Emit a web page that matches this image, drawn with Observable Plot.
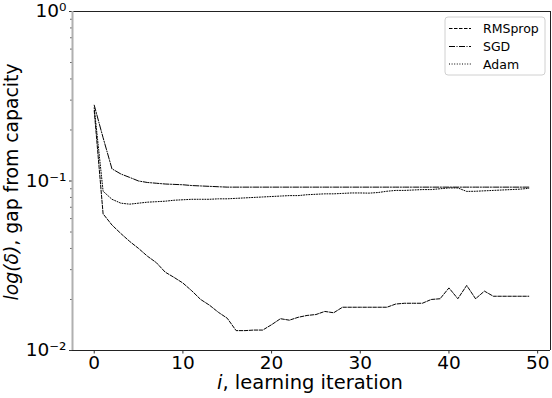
<!DOCTYPE html>
<html><head><meta charset="utf-8">
<script src="https://cdn.jsdelivr.net/npm/d3@7"></script>
<script src="https://cdn.jsdelivr.net/npm/@observablehq/plot@0.6"></script>
<style>
body{margin:0;background:#fff;}
#wrap{position:relative;width:552px;height:398px;}
</style></head><body><div id="wrap"></div>
<script>
const iterations = d3.range(50);
const rmsprop = [0.26,0.064,0.055,0.049,0.044,0.040,0.036,0.033,0.029,0.027,
  0.025,0.0225,0.020,0.0185,0.0168,0.0155,0.0131,0.0131,0.0132,0.0132,
  0.0142,0.0154,0.0151,0.0157,0.0161,0.0163,0.017,0.0167,0.018,0.018,
  0.018,0.018,0.018,0.018,0.0188,0.019,0.019,0.019,0.020,0.0202,
  0.0234,0.0202,0.0242,0.0202,0.0224,0.0209,0.0209,0.0209,0.0209,0.0209];
const sgd = [0.28,0.18,0.118,0.11,0.105,0.100,0.098,0.097,0.096,0.0955,
  0.095,0.094,0.0935,0.093,0.0925,0.092,0.092,0.092,0.092,0.092,
  0.092,0.092,0.092,0.092,0.092,0.092,0.092,0.092,0.092,0.092,
  0.092,0.092,0.092,0.092,0.092,0.092,0.092,0.092,0.092,0.092,
  0.092,0.092,0.092,0.092,0.092,0.092,0.092,0.092,0.092,0.092];
const adam = [0.27,0.087,0.078,0.074,0.073,0.074,0.075,0.0755,0.076,0.077,
  0.0775,0.078,0.078,0.078,0.0785,0.0785,0.079,0.0795,0.08,0.0805,
  0.081,0.0815,0.082,0.082,0.083,0.0835,0.084,0.084,0.0845,0.085,
  0.085,0.0848,0.0855,0.087,0.088,0.088,0.0885,0.089,0.089,0.09,
  0.091,0.091,0.0868,0.087,0.0875,0.088,0.0885,0.089,0.0895,0.0905];
const seriesNames = ["RMSprop","SGD","Adam"];
const dashes = ["3.5,1.5","6,1.5,1,1.5","1,1.6"];
const yMajor = [0.01,0.1,1];
const yMajorLabels = ["10⁻²","10⁻¹","10⁰"];
const yMinor = [0.02,0.03,0.04,0.05,0.06,0.07,0.08,0.09,0.2,0.3,0.4,0.5,0.6,0.7,0.8,0.9];
const xTicks = [0,10,20,30,40,50];
const xLabel = ["i", ", learning iteration"];
const yLabel = ["log(δ)", ", gap from capacity"];

const seriesVals = [rmsprop, sgd, adam];
const tables = seriesVals.map((vals, k) => iterations.map((i, j) => ({i, v: vals[j], s: seriesNames[k]})));
const xDom = [-2.45, 51.45];
const yDom = [0.01, 1];

const chart = Plot.plot({
  width: 552, height: 398,
  marginLeft: 72, marginRight: 2, marginTop: 11, marginBottom: 48,
  style: {fontFamily: "DejaVu Sans", fontSize: "18.5px", color: "#000", background: "#fff", overflow: "visible"},
  x: {domain: xDom, label: null},
  y: {type: "log", domain: yDom, label: null},
  marks: [
    Plot.axisY(yMinor, {tickSize: 2, tickFormat: () => "", stroke: "#444", strokeWidth: 0.8, label: null}),
    Plot.axisY(yMajor, {tickSize: 3, tickPadding: 3, tickFormat: d => yMajorLabels[yMajor.indexOf(d)], stroke: "#333", fontSize: 18.5, label: null}),
    Plot.axisX(xTicks, {tickSize: 3.5, tickPadding: 1.5, fontSize: 18.5, stroke: "#333", label: null}),
    ...tables.map((t, k) => Plot.line(t, {x: "i", y: "v", stroke: "#000", strokeWidth: 1, strokeDasharray: dashes[k]})),
    Plot.ruleY([yDom[1]], {stroke: "#222", strokeWidth: 1}),
    Plot.ruleY([yDom[0]], {stroke: "#222", strokeWidth: 1}),
    Plot.ruleX([xDom[1]], {stroke: "#222", strokeWidth: 1}),
    Plot.ruleX([xDom[0]], {stroke: "#b0b0b0", strokeWidth: 2})
  ]
});
document.getElementById("wrap").appendChild(chart);

const svg = d3.select(chart);
const font = "DejaVu Sans";
// x label
const xt = svg.append("text").attr("x", 310).attr("y", 389).attr("text-anchor", "middle")
  .attr("font-family", font).attr("font-size", 19.5).attr("fill", "#000");
xt.append("tspan").attr("font-style", "italic").text(xLabel[0]);
xt.append("tspan").text(xLabel[1]);
// y label
const yt = svg.append("text").attr("transform", "translate(17.5,182) rotate(-90)").attr("text-anchor", "middle")
  .attr("font-family", font).attr("font-size", 18.8).attr("fill", "#000");
yt.append("tspan").attr("font-style", "italic").text(yLabel[0]);
yt.append("tspan").text(yLabel[1]);
// legend
const lg = svg.append("g");
lg.append("rect").attr("x", 445).attr("y", 17).attr("width", 100).attr("height", 58).attr("rx", 3)
  .attr("fill", "#fff").attr("fill-opacity", 0.8).attr("stroke", "#d0d0d0");
const rowsY = [28.5, 46.5, 64];
seriesNames.forEach((s, k) => {
  lg.append("line").attr("x1", 449).attr("x2", 471).attr("y1", rowsY[k]).attr("y2", rowsY[k])
    .attr("stroke", "#000").attr("stroke-width", 1).attr("stroke-dasharray", dashes[k]);
  lg.append("text").attr("x", 483).attr("y", rowsY[k]).attr("dy", "0.36em").attr("text-anchor", "start")
    .attr("font-family", font).attr("font-size", 12.5).attr("fill", "#000").text(s);
});
</script></body></html>
